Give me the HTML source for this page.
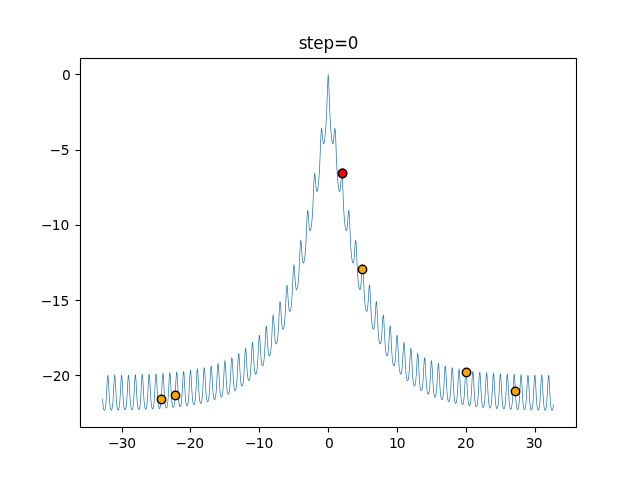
<!DOCTYPE html>
<html lang="en"><head><meta charset="utf-8"><title>step=0</title>
<style>html,body{margin:0;padding:0;background:#fff;overflow:hidden}svg{display:block}</style>
</head><body>
<svg width="640" height="480" viewBox="0 0 640 480">
<rect width="640" height="480" fill="#ffffff"/>
<path d="M102.643 404.771L102.645 404.790L103.096 408.159L103.105 408.202L103.556 409.924L103.622 410.055L104.073 410.621L104.320 410.754L104.587 410.665L105.038 410.265L105.142 410.102L105.594 408.602L105.605 408.552L106.056 405.512L106.059 405.491L106.510 400.288L106.511 400.278L106.962 392.649L106.962 392.646L107.413 383.742L107.814 377.524L108.059 380.193L108.510 388.732L108.961 397.172L108.962 397.178L109.413 403.453L109.415 403.468L109.866 407.367L109.872 407.401L110.323 409.490L110.358 409.584L110.809 410.418L110.991 410.579L111.235 410.585L111.686 410.433L111.904 410.223L112.356 409.037L112.374 408.972L112.825 406.386L112.829 406.360L113.280 401.771L113.281 401.758L113.732 394.723L113.733 394.718L114.184 385.913L114.634 378.049L114.718 377.465L114.830 378.310L115.280 386.284L115.732 395.036L115.732 395.041L116.183 401.952L116.184 401.965L116.636 406.435L116.640 406.462L117.091 408.957L117.111 409.026L117.563 410.144L117.820 410.359L118.271 410.452L118.498 410.424L118.660 410.264L119.112 409.366L119.142 409.279L119.593 407.106L119.599 407.073L120.050 403.062L120.051 403.047L120.503 396.645L120.503 396.638L120.954 388.117L121.405 379.639L121.635 377.256L122.051 383.855L122.502 392.741L122.502 392.744L122.954 400.258L122.954 400.268L123.406 405.345L123.409 405.368L123.860 408.309L123.872 408.362L124.324 409.788L124.448 409.965L124.900 410.305L125.167 410.372L125.402 410.228L125.853 409.600L125.909 409.479L126.361 407.679L126.368 407.638L126.820 404.163L126.821 404.145L127.273 398.386L127.273 398.378L127.725 390.286L127.725 390.284L128.176 381.466L128.498 377.163L128.821 381.509L129.273 390.311L129.273 390.313L129.724 398.363L129.725 398.371L130.176 404.082L130.178 404.100L130.629 407.532L130.637 407.573L131.089 409.336L131.150 409.463L131.601 410.057L131.843 410.195L132.110 410.116L132.562 409.743L132.674 409.574L133.126 408.112L133.138 408.060L133.589 405.077L133.592 405.055L134.043 399.930L134.044 399.920L134.495 392.360L134.495 392.357L134.946 383.446L135.361 376.892L135.592 379.313L136.043 387.784L136.494 396.266L136.495 396.273L136.946 402.627L136.947 402.642L137.399 406.607L137.404 406.640L137.856 408.774L137.888 408.865L138.340 409.727L138.514 409.888L138.751 409.904L139.202 409.777L139.436 409.564L139.888 408.410L139.907 408.343L140.358 405.807L140.362 405.780L140.813 401.263L140.814 401.250L141.265 394.290L141.266 394.285L141.717 385.500L142.167 377.526L142.276 376.717L142.363 377.334L142.813 385.201L143.265 393.972L143.265 393.976L143.716 400.962L143.717 400.974L144.169 405.515L144.172 405.542L144.624 408.084L144.643 408.152L145.094 409.300L145.336 409.514L145.788 409.629L146.021 409.610L146.191 409.449L146.643 408.578L146.675 408.489L147.126 406.357L147.131 406.324L147.583 402.377L147.584 402.362L148.036 396.036L148.036 396.029L148.487 387.547L148.938 378.996L149.181 376.361L149.584 382.616L150.035 391.491L150.035 391.494L150.487 399.073L150.487 399.083L150.939 404.233L150.941 404.255L151.393 407.248L151.405 407.300L151.856 408.757L151.973 408.929L152.425 409.290L152.692 409.365L152.931 409.225L153.383 408.619L153.442 408.495L153.893 406.729L153.901 406.688L154.352 403.269L154.354 403.251L154.806 397.565L154.806 397.557L155.258 389.518L155.258 389.516L155.709 380.657L156.044 376.045L156.354 380.087L156.806 388.845L156.806 388.847L157.257 396.947L157.258 396.955L157.709 402.738L157.711 402.756L158.162 406.242L158.170 406.283L158.621 408.079L158.679 408.202L159.131 408.817L159.369 408.958L159.637 408.885L160.088 408.530L160.207 408.357L160.658 406.923L160.670 406.870L161.122 403.934L161.125 403.912L161.576 398.854L161.577 398.844L162.028 391.346L162.028 391.342L162.479 382.420L162.908 375.504L163.125 377.675L163.576 386.062L164.027 394.575L164.028 394.581L164.479 401.004L164.480 401.018L164.932 405.041L164.937 405.074L165.388 407.242L165.420 407.331L165.871 408.212L166.041 408.373L166.274 408.394L166.725 408.281L166.968 408.068L167.420 406.934L167.439 406.866L167.891 404.367L167.895 404.340L168.346 399.882L168.347 399.869L168.798 392.973L168.799 392.968L169.250 384.194L169.701 376.104L169.834 375.034L169.896 375.437L170.346 383.177L170.798 391.952L170.798 391.956L171.249 399.003L171.250 399.015L171.702 403.614L171.705 403.641L172.157 406.219L172.175 406.286L172.627 407.451L172.863 407.665L173.314 407.790L173.550 407.774L173.723 407.613L174.175 406.756L174.208 406.665L174.659 404.562L174.664 404.528L175.116 400.631L175.117 400.616L175.569 394.351L175.569 394.345L176.020 385.891L176.020 385.890L176.471 377.257L176.729 374.343L177.117 380.233L177.568 389.080L177.568 389.083L178.020 396.710L178.020 396.720L178.472 401.927L178.474 401.949L178.926 404.978L178.937 405.030L179.389 406.503L179.504 406.675L179.956 407.041L180.223 407.118L180.463 406.979L180.915 406.378L180.975 406.254L181.426 404.505L181.434 404.464L181.885 401.083L181.887 401.065L182.339 395.436L182.339 395.427L182.791 387.426L182.791 387.424L183.242 378.512L183.591 373.553L183.887 377.275L184.339 385.965L184.339 385.967L184.790 394.098L184.790 394.105L185.242 399.941L185.244 399.959L185.695 403.482L185.703 403.523L186.154 405.332L186.212 405.457L186.664 406.071L186.903 406.213L187.170 406.139L187.622 405.782L187.740 405.610L188.191 404.182L188.203 404.130L188.655 401.219L188.658 401.197L189.109 396.186L189.110 396.176L189.561 388.719L189.561 388.716L190.012 379.764L190.456 372.436L190.658 374.345L191.109 382.621L191.560 391.139L191.561 391.145L192.012 397.613L192.013 397.627L192.465 401.685L192.470 401.718L192.921 403.897L192.953 403.988L193.405 404.863L193.578 405.026L193.814 405.043L194.266 404.919L194.502 404.707L194.953 403.569L194.972 403.501L195.424 401.015L195.428 400.988L195.879 396.563L195.880 396.551L196.331 389.694L196.332 389.689L196.783 380.903L197.234 372.676L197.396 371.283L197.429 371.481L197.879 379.062L198.331 387.810L198.331 387.814L198.782 394.893L198.783 394.905L199.235 399.535L199.238 399.561L199.690 402.147L199.709 402.215L200.160 403.369L200.410 403.585L200.861 403.691L201.091 403.668L201.258 403.508L201.709 402.633L201.741 402.545L202.192 400.438L202.197 400.405L202.649 396.526L202.650 396.511L203.102 390.278L203.102 390.271L203.553 381.816L203.553 381.815L204.004 373.072L204.278 369.827L204.650 375.306L205.101 384.085L205.101 384.088L205.553 391.729L205.553 391.739L206.005 396.969L206.007 396.991L206.459 400.023L206.471 400.076L206.922 401.530L207.049 401.709L207.501 402.045L207.767 402.111L208.001 401.967L208.453 401.335L208.508 401.217L208.959 399.449L208.967 399.408L209.418 396.028L209.420 396.009L209.872 390.398L209.872 390.390L210.324 382.390L210.324 382.388L210.775 373.388L211.141 368.009L211.420 371.366L211.872 379.943L211.872 379.944L212.323 388.062L212.323 388.069L212.775 393.917L212.777 393.935L213.228 397.452L213.236 397.494L213.687 399.275L213.753 399.408L214.204 399.980L214.452 400.114L214.720 400.024L215.171 399.620L215.274 399.460L215.725 397.993L215.736 397.943L216.188 395.012L216.190 394.990L216.642 389.979L216.643 389.969L217.094 382.509L217.094 382.505L217.545 373.480L217.996 365.839L218.017 365.716L218.191 367.246L218.642 375.356L219.093 383.825L219.094 383.831L219.545 390.293L219.546 390.308L219.998 394.349L220.003 394.383L220.455 396.522L220.491 396.620L220.942 397.438L221.136 397.602L221.390 397.594L221.841 397.406L222.037 397.203L222.488 396.005L222.505 395.942L222.957 393.412L222.961 393.385L223.412 388.938L223.413 388.925L223.864 382.052L223.865 382.047L224.316 373.194L224.767 364.778L224.963 362.951L225.412 370.293L225.864 378.948L225.864 378.952L226.315 386.001L226.316 386.013L226.768 390.611L226.771 390.639L227.223 393.169L227.245 393.244L227.696 394.322L228.008 394.539L228.459 394.560L228.796 394.356L229.248 393.398L229.274 393.318L229.725 391.140L229.730 391.109L230.182 387.180L230.183 387.165L230.635 380.894L230.635 380.887L231.086 372.363L231.086 372.362L231.537 363.443L231.831 359.754L232.183 364.715L232.634 373.348L232.634 373.351L233.086 380.928L233.086 380.937L233.538 386.115L233.540 386.138L233.992 389.095L234.006 389.153L234.457 390.510L234.635 390.716L235.087 390.941L235.344 390.965L235.549 390.808L236.000 390.065L236.042 389.964L236.493 388.093L236.500 388.055L236.952 384.592L236.953 384.574L237.405 378.897L237.405 378.889L237.857 370.807L237.857 370.804L238.308 361.635L238.696 355.666L238.954 358.563L239.405 366.931L239.405 366.931L239.856 374.942L239.856 374.949L240.308 380.715L240.310 380.734L240.761 384.152L240.771 384.199L241.222 385.856L241.319 386.020L241.770 386.451L242.037 386.549L242.290 386.420L242.741 385.871L242.809 385.742L243.260 384.136L243.270 384.092L243.721 381.039L243.724 381.018L244.175 375.905L244.176 375.894L244.627 368.327L244.627 368.324L245.079 359.125L245.529 351.171L245.595 350.735L245.724 351.757L246.175 359.583L246.626 367.889L246.627 367.895L247.078 374.237L247.080 374.253L247.531 378.163L247.537 378.201L247.989 380.184L248.044 380.309L248.496 380.951L248.739 381.099L249.012 381.021L249.464 380.648L249.575 380.485L250.026 379.105L250.039 379.053L250.490 376.355L250.494 376.331L250.945 371.736L250.946 371.724L251.397 364.708L251.398 364.703L251.849 355.659L252.300 346.927L252.524 344.621L252.945 351.170L253.397 359.592L253.397 359.596L253.848 366.475L253.849 366.488L254.301 370.914L254.305 370.946L254.757 373.280L254.791 373.377L255.242 374.236L255.443 374.408L255.707 374.393L256.158 374.182L256.340 373.986L256.791 372.795L256.808 372.735L257.260 370.335L257.264 370.308L257.715 366.176L257.716 366.162L258.168 359.700L258.168 359.694L258.619 350.947L258.619 350.946L259.071 341.698L259.394 337.300L259.716 341.520L260.167 349.837L260.167 349.840L260.619 357.183L260.619 357.193L261.071 362.147L261.074 362.173L261.526 364.884L261.548 364.962L261.999 366.047L262.151 366.218L262.375 366.262L262.827 366.200L263.104 365.990L263.555 364.955L263.577 364.886L264.029 362.729L264.034 362.699L264.485 358.967L264.486 358.951L264.938 353.020L264.938 353.012L265.390 344.660L265.390 344.658L265.841 335.130L266.263 328.174L266.487 330.420L266.938 338.371L266.938 338.371L267.389 346.066L267.390 346.075L267.841 351.551L267.843 351.573L268.295 354.682L268.310 354.746L268.762 356.067L269.038 356.302L269.490 356.378L269.710 356.344L269.867 356.186L270.318 355.272L270.346 355.194L270.798 353.227L270.803 353.195L271.255 349.794L271.257 349.776L271.708 344.331L271.709 344.322L272.160 336.419L272.160 336.415L272.612 326.812L273.062 318.313L273.199 317.215L273.258 317.597L273.708 324.887L274.159 332.776L274.160 332.783L274.611 338.751L274.613 338.770L275.064 342.294L275.075 342.347L275.527 343.914L275.722 344.140L276.173 344.343L276.432 344.356L276.631 344.190L277.082 343.367L277.115 343.281L277.567 341.449L277.573 341.415L278.025 338.274L278.027 338.255L278.478 333.234L278.479 333.223L278.930 325.784L278.931 325.779L279.382 316.263L279.833 306.933L280.103 303.723L280.479 309.012L280.930 316.894L280.930 316.898L281.381 323.298L281.383 323.314L281.834 327.257L281.842 327.302L282.294 329.124L282.433 329.328L282.884 329.648L283.164 329.706L283.396 329.539L283.847 328.772L283.885 328.681L284.336 326.929L284.343 326.894L284.795 323.939L284.797 323.919L285.248 319.245L285.249 319.234L285.701 312.239L285.701 312.233L286.152 302.920L286.152 302.919L286.604 292.995L286.977 287.225L287.249 290.289L287.700 297.913L287.700 297.916L288.152 304.648L288.153 304.661L288.604 309.012L288.610 309.051L289.062 311.131L289.166 311.314L289.617 311.738L289.908 311.831L290.164 311.663L290.615 310.919L290.655 310.825L291.106 309.097L291.113 309.063L291.565 306.215L291.567 306.195L292.019 301.782L292.020 301.770L292.471 295.169L292.471 295.162L292.923 286.119L292.923 286.117L293.374 275.809L293.824 267.454L293.884 267.083L294.020 268.151L294.471 275.226L294.471 275.227L294.922 282.148L294.923 282.159L295.374 286.883L295.379 286.916L295.831 289.249L295.913 289.417L296.364 289.928L296.664 290.046L296.936 289.874L297.387 289.114L297.426 289.020L297.877 287.256L297.884 287.224L298.335 284.401L298.338 284.383L298.789 280.133L298.790 280.121L299.241 273.837L299.242 273.830L299.693 265.077L299.693 265.074L300.145 254.550L300.596 244.984L300.832 242.454L301.241 248.093L301.693 255.008L301.693 255.016L302.145 260.048L302.148 260.078L302.600 262.645L302.670 262.803L303.122 263.379L303.314 263.504L303.542 263.485L303.712 263.331L304.163 262.511L304.197 262.423L304.649 260.556L304.654 260.527L305.106 257.642L305.108 257.625L305.559 253.432L305.560 253.421L306.012 247.355L306.012 247.348L306.464 238.860L306.464 238.856L306.915 228.237L307.366 217.671L307.720 212.374L308.012 215.612L308.463 222.273L308.463 222.279L308.915 227.514L308.918 227.541L309.370 230.307L309.435 230.462L309.886 231.070L310.084 231.202L310.321 231.180L310.491 231.013L310.942 230.082L310.969 230.004L311.421 227.960L311.425 227.935L311.877 224.891L311.878 224.876L312.330 220.624L312.331 220.613L312.782 214.646L312.783 214.638L313.234 206.349L313.234 206.344L313.685 195.696L313.686 195.695L314.137 184.319L314.587 175.768L314.631 175.522L314.783 176.686L315.234 182.788L315.234 182.792L315.685 188.078L315.688 188.102L316.140 191.006L316.208 191.166L316.659 191.760L316.864 191.892L317.106 191.860L317.270 191.679L317.722 190.575L317.741 190.509L318.193 188.204L318.196 188.184L318.647 184.873L318.649 184.861L319.100 180.419L319.101 180.409L319.552 174.400L319.553 174.393L320.004 166.195L320.005 166.190L320.456 155.520L320.456 155.518L320.907 143.482L321.358 133.231L321.607 130.565L322.004 135.151L322.004 135.152L322.456 140.282L322.458 140.304L322.910 143.248L322.994 143.428L323.445 143.943L323.659 144.060L323.897 144.011L324.049 143.821L324.500 142.467L324.513 142.414L324.965 139.748L324.967 139.732L325.419 136.031L325.420 136.022L325.871 131.245L325.872 131.238L326.323 125.026L326.323 125.019L326.775 116.769L326.775 116.765L327.226 106.021L327.226 106.019L327.678 93.420L328.129 81.620L328.226 80.075L328.322 81.620L328.774 93.420L329.225 106.019L329.225 106.021L329.676 116.765L329.677 116.769L330.128 125.019L330.128 125.026L330.580 131.238L330.580 131.245L331.032 136.022L331.033 136.031L331.484 139.732L331.487 139.748L331.938 142.414L331.951 142.467L332.402 143.821L332.554 144.011L332.793 144.060L333.006 143.943L333.458 143.428L333.542 143.248L333.993 140.304L333.996 140.282L334.447 135.152L334.447 135.151L334.844 130.565L335.093 133.231L335.544 143.482L335.995 155.518L335.995 155.520L336.447 166.190L336.447 166.195L336.898 174.393L336.899 174.400L337.350 180.409L337.351 180.419L337.802 184.861L337.804 184.873L338.255 188.184L338.259 188.204L338.710 190.509L338.730 190.575L339.181 191.679L339.345 191.860L339.587 191.892L339.792 191.760L340.244 191.166L340.312 191.006L340.763 188.102L340.766 188.078L341.217 182.792L341.218 182.788L341.668 176.686L341.821 175.522L341.865 175.768L342.315 184.319L342.766 195.695L342.766 195.696L343.217 206.344L343.217 206.349L343.669 214.638L343.669 214.646L344.121 220.613L344.122 220.624L344.573 224.876L344.575 224.891L345.026 227.935L345.031 227.960L345.482 230.004L345.509 230.082L345.961 231.013L346.130 231.180L346.367 231.202L346.565 231.070L347.016 230.462L347.082 230.307L347.533 227.541L347.537 227.514L347.988 222.279L347.988 222.273L348.439 215.612L348.731 212.374L349.085 217.671L349.536 228.237L349.988 238.856L349.988 238.860L350.439 247.348L350.440 247.355L350.891 253.421L350.892 253.432L351.343 257.625L351.346 257.642L351.797 260.527L351.803 260.556L352.254 262.423L352.288 262.511L352.740 263.331L352.909 263.485L353.138 263.504L353.330 263.379L353.781 262.803L353.852 262.645L354.303 260.078L354.307 260.048L354.758 255.016L354.759 255.008L355.210 248.093L355.619 242.454L355.856 244.984L356.307 254.550L356.758 265.074L356.758 265.077L357.210 273.830L357.210 273.837L357.661 280.121L357.662 280.133L358.114 284.383L358.116 284.401L358.568 287.224L358.574 287.256L359.026 289.020L359.064 289.114L359.516 289.874L359.788 290.046L360.087 289.928L360.538 289.417L360.621 289.249L361.072 286.916L361.077 286.883L361.528 282.159L361.529 282.148L361.981 275.227L361.981 275.226L362.431 268.151L362.568 267.083L362.627 267.454L363.077 275.809L363.528 286.117L363.529 286.119L363.980 295.162L363.980 295.169L364.432 301.770L364.433 301.782L364.884 306.195L364.887 306.215L365.338 309.063L365.345 309.097L365.796 310.825L365.836 310.919L366.288 311.663L366.543 311.831L366.834 311.738L367.286 311.314L367.390 311.131L367.841 309.051L367.847 309.012L368.299 304.661L368.300 304.648L368.751 297.916L368.751 297.913L369.202 290.289L369.474 287.225L369.848 292.995L370.299 302.919L370.299 302.920L370.750 312.233L370.751 312.239L371.202 319.234L371.203 319.245L371.654 323.919L371.657 323.939L372.108 326.894L372.115 326.929L372.567 328.681L372.604 328.772L373.056 329.539L373.287 329.706L373.567 329.648L374.018 329.328L374.158 329.124L374.609 327.302L374.617 327.257L375.069 323.314L375.070 323.298L375.521 316.898L375.522 316.894L375.973 309.012L376.349 303.723L376.618 306.933L377.069 316.263L377.521 325.779L377.521 325.784L377.972 333.223L377.973 333.234L378.424 338.255L378.427 338.274L378.878 341.415L378.885 341.449L379.336 343.281L379.369 343.367L379.821 344.190L380.019 344.356L380.278 344.343L380.729 344.140L380.925 343.914L381.376 342.347L381.387 342.294L381.838 338.770L381.840 338.751L382.292 332.783L382.292 332.776L382.743 324.887L383.194 317.597L383.253 317.215L383.389 318.313L383.840 326.812L384.291 336.415L384.291 336.419L384.743 344.322L384.743 344.331L385.195 349.776L385.197 349.794L385.648 353.195L385.654 353.227L386.105 355.194L386.133 355.272L386.584 356.186L386.741 356.344L386.962 356.378L387.413 356.302L387.690 356.067L388.141 354.746L388.157 354.682L388.608 351.573L388.610 351.551L389.062 346.075L389.062 346.066L389.514 338.371L389.514 338.371L389.965 330.420L390.189 328.174L390.610 335.130L391.062 344.658L391.062 344.660L391.513 353.012L391.514 353.020L391.965 358.951L391.966 358.967L392.418 362.699L392.423 362.729L392.874 364.886L392.896 364.955L393.348 365.990L393.625 366.200L394.076 366.262L394.301 366.218L394.452 366.047L394.903 364.962L394.926 364.884L395.377 362.173L395.381 362.147L395.832 357.193L395.833 357.183L396.284 349.840L396.284 349.837L396.735 341.520L397.058 337.300L397.381 341.698L397.832 350.946L397.832 350.947L398.283 359.694L398.284 359.700L398.735 366.162L398.736 366.176L399.188 370.308L399.192 370.335L399.643 372.735L399.660 372.795L400.111 373.986L400.293 374.182L400.744 374.393L401.008 374.408L401.209 374.236L401.660 373.377L401.695 373.280L402.146 370.946L402.151 370.914L402.602 366.488L402.603 366.475L403.054 359.596L403.055 359.592L403.506 351.170L403.927 344.621L404.151 346.927L404.602 355.659L405.054 364.703L405.054 364.708L405.505 371.724L405.506 371.736L405.958 376.331L405.961 376.355L406.412 379.053L406.425 379.105L406.876 380.485L406.988 380.648L407.439 381.021L407.712 381.099L407.956 380.951L408.407 380.309L408.463 380.184L408.914 378.201L408.920 378.163L409.372 374.253L409.373 374.237L409.825 367.895L409.825 367.889L410.276 359.583L410.727 351.757L410.856 350.735L410.923 351.171L411.373 359.125L411.824 368.324L411.824 368.327L412.276 375.894L412.276 375.905L412.728 381.018L412.730 381.039L413.182 384.092L413.191 384.136L413.642 385.742L413.710 385.871L414.161 386.420L414.414 386.549L414.681 386.451L415.132 386.020L415.229 385.856L415.681 384.199L415.690 384.152L416.142 380.734L416.144 380.715L416.595 374.949L416.595 374.942L417.047 366.931L417.047 366.931L417.498 358.563L417.755 355.666L418.143 361.635L418.595 370.804L418.595 370.807L419.046 378.889L419.047 378.897L419.498 384.574L419.500 384.592L419.951 388.055L419.958 388.093L420.409 389.964L420.451 390.065L420.902 390.808L421.108 390.965L421.365 390.941L421.816 390.716L421.994 390.510L422.446 389.153L422.460 389.095L422.911 386.138L422.914 386.115L423.365 380.937L423.366 380.928L423.817 373.351L423.817 373.348L424.268 364.715L424.620 359.754L424.914 363.443L425.365 372.362L425.365 372.363L425.816 380.887L425.817 380.894L426.268 387.165L426.270 387.180L426.721 391.109L426.726 391.140L427.177 393.318L427.204 393.398L427.655 394.356L427.992 394.560L428.444 394.539L428.755 394.322L429.207 393.244L429.229 393.169L429.680 390.639L429.684 390.611L430.135 386.013L430.136 386.001L430.587 378.952L430.588 378.948L431.039 370.293L431.488 362.951L431.685 364.778L432.135 373.194L432.587 382.047L432.587 382.052L433.038 388.925L433.039 388.938L433.491 393.385L433.495 393.412L433.946 395.942L433.963 396.005L434.415 397.203L434.610 397.406L435.061 397.594L435.315 397.602L435.509 397.438L435.960 396.620L435.997 396.522L436.448 394.383L436.454 394.349L436.905 390.308L436.906 390.293L437.358 383.831L437.358 383.825L437.809 375.356L438.260 367.246L438.434 365.716L438.456 365.839L438.906 373.480L439.357 382.505L439.357 382.509L439.809 389.969L439.810 389.979L440.261 394.990L440.264 395.012L440.715 397.943L440.726 397.993L441.178 399.460L441.280 399.620L441.732 400.024L441.999 400.114L442.247 399.980L442.699 399.408L442.764 399.275L443.215 397.494L443.223 397.452L443.675 393.935L443.677 393.917L444.128 388.069L444.128 388.062L444.580 379.944L444.580 379.943L445.031 371.366L445.310 368.009L445.676 373.388L446.128 382.388L446.128 382.390L446.579 390.390L446.580 390.398L447.031 396.009L447.033 396.028L447.484 399.408L447.492 399.449L447.944 401.217L447.999 401.335L448.450 401.967L448.684 402.111L448.951 402.045L449.402 401.709L449.529 401.530L449.981 400.076L449.993 400.023L450.444 396.991L450.447 396.969L450.898 391.739L450.899 391.729L451.350 384.088L451.350 384.085L451.801 375.306L452.174 369.827L452.447 373.072L452.898 381.815L452.898 381.816L453.349 390.271L453.350 390.278L453.801 396.511L453.803 396.526L454.254 400.405L454.259 400.438L454.711 402.545L454.742 402.633L455.194 403.508L455.361 403.668L455.590 403.691L456.041 403.585L456.291 403.369L456.743 402.215L456.762 402.147L457.213 399.561L457.217 399.535L457.668 394.905L457.669 394.893L458.120 387.814L458.121 387.810L458.572 379.062L459.022 371.481L459.055 371.283L459.218 372.676L459.668 380.903L460.120 389.689L460.120 389.694L460.571 396.551L460.572 396.563L461.024 400.988L461.028 401.015L461.479 403.501L461.498 403.569L461.950 404.707L462.186 404.919L462.637 405.043L462.874 405.026L463.047 404.863L463.498 403.988L463.530 403.897L463.981 401.718L463.987 401.685L464.438 397.627L464.439 397.613L464.891 391.145L464.891 391.139L465.342 382.621L465.793 374.345L465.995 372.436L466.439 379.764L466.890 388.716L466.890 388.719L467.342 396.176L467.342 396.186L467.794 401.197L467.797 401.219L468.248 404.130L468.260 404.182L468.712 405.610L468.830 405.782L469.281 406.139L469.549 406.213L469.788 406.071L470.239 405.457L470.297 405.332L470.749 403.523L470.756 403.482L471.208 399.959L471.210 399.941L471.661 394.105L471.661 394.098L472.113 385.967L472.113 385.965L472.564 377.275L472.860 373.553L473.209 378.512L473.661 387.424L473.661 387.426L474.112 395.427L474.113 395.436L474.564 401.065L474.566 401.083L475.017 404.464L475.025 404.505L475.477 406.254L475.537 406.378L475.988 406.979L476.229 407.118L476.496 407.041L476.947 406.675L477.063 406.503L477.514 405.030L477.526 404.978L477.977 401.949L477.980 401.927L478.431 396.720L478.432 396.710L478.883 389.083L478.883 389.080L479.334 380.233L479.723 374.343L479.980 377.257L480.431 385.890L480.431 385.891L480.882 394.345L480.883 394.351L481.334 400.616L481.336 400.631L481.787 404.528L481.792 404.562L482.244 406.665L482.277 406.756L482.728 407.613L482.902 407.774L483.137 407.790L483.589 407.665L483.825 407.451L484.276 406.286L484.295 406.219L484.746 403.641L484.750 403.614L485.201 399.015L485.202 399.003L485.653 391.956L485.654 391.952L486.105 383.177L486.555 375.437L486.617 375.034L486.751 376.104L487.201 384.194L487.653 392.968L487.653 392.973L488.104 399.869L488.105 399.882L488.557 404.340L488.561 404.367L489.012 406.866L489.032 406.934L489.483 408.068L489.726 408.281L490.177 408.394L490.411 408.373L490.580 408.212L491.031 407.331L491.063 407.242L491.514 405.074L491.520 405.041L491.971 401.018L491.972 401.004L492.424 394.581L492.424 394.575L492.875 386.062L493.326 377.675L493.544 375.504L493.972 382.420L494.423 391.342L494.423 391.346L494.875 398.844L494.875 398.854L495.327 403.912L495.330 403.934L495.781 406.870L495.793 406.923L496.244 408.357L496.363 408.530L496.815 408.885L497.082 408.958L497.321 408.817L497.772 408.202L497.830 408.079L498.281 406.283L498.289 406.242L498.741 402.756L498.742 402.738L499.194 396.955L499.194 396.947L499.646 388.847L499.646 388.845L500.097 380.087L500.407 376.045L500.742 380.657L501.194 389.516L501.194 389.518L501.645 397.557L501.646 397.565L502.097 403.251L502.099 403.269L502.550 406.688L502.558 406.729L503.010 408.495L503.069 408.619L503.520 409.225L503.760 409.365L504.027 409.290L504.478 408.929L504.595 408.757L505.047 407.300L505.059 407.248L505.510 404.255L505.513 404.233L505.964 399.083L505.965 399.073L506.416 391.494L506.416 391.491L506.867 382.616L507.270 376.361L507.513 378.996L507.964 387.547L508.415 396.029L508.416 396.036L508.867 402.362L508.869 402.377L509.320 406.324L509.325 406.357L509.777 408.489L509.809 408.578L510.260 409.449L510.430 409.610L510.664 409.629L511.115 409.514L511.357 409.300L511.808 408.152L511.828 408.084L512.279 405.542L512.283 405.515L512.734 400.974L512.735 400.962L513.186 393.976L513.187 393.972L513.638 385.201L514.088 377.334L514.176 376.717L514.284 377.526L514.734 385.500L515.186 394.285L515.186 394.290L515.637 401.250L515.638 401.263L516.090 405.780L516.093 405.807L516.545 408.343L516.564 408.410L517.015 409.564L517.249 409.777L517.701 409.904L517.937 409.888L518.112 409.727L518.563 408.865L518.596 408.774L519.047 406.640L519.053 406.607L519.504 402.642L519.505 402.627L519.957 396.273L519.957 396.266L520.408 387.784L520.859 379.313L521.091 376.892L521.505 383.446L521.956 392.357L521.956 392.360L522.408 399.920L522.408 399.930L522.860 405.055L522.862 405.077L523.314 408.060L523.326 408.112L523.777 409.574L523.890 409.743L524.341 410.116L524.608 410.195L524.850 410.057L525.302 409.463L525.363 409.336L525.814 407.573L525.822 407.532L526.274 404.100L526.275 404.082L526.727 398.371L526.727 398.363L527.179 390.313L527.179 390.311L527.630 381.509L527.954 377.163L528.275 381.466L528.727 390.284L528.727 390.286L529.178 398.378L529.179 398.386L529.630 404.145L529.632 404.163L530.083 407.638L530.091 407.679L530.542 409.479L530.598 409.600L531.050 410.228L531.284 410.372L531.552 410.305L532.003 409.965L532.128 409.788L532.579 408.362L532.591 408.309L533.043 405.368L533.046 405.345L533.497 400.268L533.498 400.258L533.949 392.744L533.949 392.741L534.400 383.855L534.817 377.256L535.046 379.639L535.497 388.117L535.948 396.638L535.949 396.645L536.400 403.047L536.401 403.062L536.853 407.073L536.858 407.106L537.309 409.279L537.340 409.366L537.791 410.264L537.954 410.424L538.180 410.452L538.631 410.359L538.889 410.144L539.340 409.026L539.360 408.957L539.812 406.462L539.816 406.435L540.267 401.965L540.268 401.952L540.719 395.041L540.720 395.036L541.171 386.284L541.621 378.310L541.733 377.465L541.817 378.049L542.267 385.913L542.719 394.718L542.719 394.723L543.170 401.758L543.171 401.771L543.623 406.360L543.626 406.386L544.078 408.972L544.096 409.037L544.547 410.223L544.765 410.433L545.217 410.585L545.460 410.579L545.642 410.418L546.094 409.584L546.128 409.490L546.580 407.401L546.585 407.367L547.037 403.468L547.038 403.453L547.490 397.178L547.490 397.172L547.941 388.732L548.392 380.193L548.637 377.524L549.038 383.742L549.489 392.646L549.489 392.649L549.941 400.278L549.941 400.288L550.393 405.491L550.395 405.512L550.847 408.552L550.858 408.602L551.309 410.102L551.413 410.265L551.865 410.665L552.131 410.754L552.378 410.621L552.829 410.055L552.895 409.924L553.347 408.202L553.355 408.159L553.806 404.790L553.854 404.438L553.150 404.344L552.654 408.043L552.227 409.671L552.056 409.886L551.960 409.801L551.545 408.422L551.099 405.419L550.649 400.231L550.198 392.608L549.747 383.703L549.747 383.698L549.295 376.696L549.280 376.615L548.829 375.141L548.686 374.949L548.453 374.892L548.237 374.995L548.136 375.212L547.685 380.135L547.684 380.149L547.232 388.695L546.781 397.131L546.331 403.394L545.882 407.268L545.445 409.291L545.160 409.817L545.151 409.813L544.771 408.816L544.328 406.277L543.879 401.707L543.428 394.680L542.976 385.876L542.976 385.874L542.525 377.993L542.522 377.963L542.071 374.814L541.951 374.595L541.717 374.509L541.484 374.598L541.367 374.818L540.916 378.230L540.913 378.256L540.462 386.245L540.462 386.247L540.011 394.997L539.560 401.900L539.111 406.349L538.668 408.794L538.302 409.700L537.995 409.089L537.557 406.978L537.108 402.990L536.657 396.598L536.206 388.080L535.755 379.594L535.753 379.579L535.302 374.889L535.198 374.670L534.976 374.569L534.742 374.634L534.605 374.834L534.154 376.590L534.143 376.656L533.692 383.813L533.692 383.817L533.240 392.703L532.789 400.210L532.339 405.271L531.894 408.174L531.485 409.466L531.414 409.519L531.214 409.241L530.785 407.526L530.337 404.081L529.887 398.335L529.436 390.247L528.984 381.425L528.984 381.417L528.532 375.380L528.414 375.141L528.162 375.052L527.711 375.073L527.480 375.173L527.373 375.401L526.922 381.461L526.921 381.469L526.470 390.274L526.019 398.319L525.568 404.017L525.121 407.418L524.693 409.091L524.509 409.333L524.424 409.263L524.012 407.928L523.566 404.982L523.116 399.873L522.665 392.319L522.214 383.408L522.214 383.404L521.762 376.259L521.751 376.191L521.300 374.476L521.162 374.276L520.928 374.212L520.707 374.313L520.603 374.532L520.152 379.253L520.151 379.268L519.699 387.746L519.248 396.226L518.798 402.569L518.349 406.510L517.911 408.579L517.616 409.142L517.612 409.141L517.238 408.184L516.795 405.696L516.345 401.198L515.895 394.246L515.443 385.462L515.443 385.460L514.992 377.472L514.989 377.445L514.538 374.068L514.421 373.848L514.188 373.760L513.954 373.846L513.835 374.065L513.383 377.249L513.380 377.279L512.929 385.161L512.929 385.163L512.478 393.933L512.027 400.910L511.577 405.431L511.135 407.925L510.763 408.871L510.761 408.872L510.461 408.294L510.023 406.227L509.575 402.304L509.124 395.988L508.673 387.510L508.222 378.952L508.221 378.938L507.769 374.041L507.668 373.823L507.451 373.720L507.218 373.778L507.076 373.972L506.624 375.482L506.610 375.561L506.159 382.573L506.159 382.577L505.707 391.454L505.256 399.026L504.806 404.160L504.361 407.115L503.949 408.443L503.870 408.506L503.680 408.251L503.251 406.574L502.804 403.185L502.354 397.513L501.903 389.479L501.451 380.617L501.451 380.610L500.999 374.394L500.807 374.103L500.356 373.872L500.129 373.839L499.930 373.951L499.840 374.161L499.389 380.037L499.388 380.046L498.937 388.808L498.486 396.904L498.035 402.674L497.588 406.130L497.159 407.838L496.966 408.100L496.889 408.040L496.479 406.735L496.033 403.837L495.583 398.796L495.132 391.305L494.681 382.382L494.681 382.378L494.229 375.085L494.221 375.028L493.770 373.064L493.636 372.858L493.401 372.789L493.177 372.887L493.070 373.108L492.619 377.612L492.618 377.628L492.166 386.024L491.715 394.534L491.265 400.947L490.816 404.945L490.378 407.050L490.077 407.637L490.075 407.636L489.704 406.704L489.262 404.255L488.812 399.817L488.362 392.929L487.910 384.157L487.910 384.155L487.459 376.053L487.457 376.028L487.005 372.413L486.890 372.193L486.658 372.102L486.424 372.186L486.302 372.403L485.851 375.346L485.847 375.379L485.396 383.137L485.396 383.139L484.945 391.913L484.494 398.952L484.044 403.532L483.601 406.062L483.227 407.028L483.223 407.029L482.928 406.468L482.490 404.429L482.042 400.557L481.591 394.304L481.140 385.853L480.689 377.213L480.688 377.200L480.236 372.085L480.077 371.820L479.770 371.780L479.549 371.996L479.098 373.246L479.077 373.344L478.626 380.189L478.626 380.195L478.174 389.042L477.723 396.664L477.273 401.855L476.827 404.847L476.416 406.192L476.334 406.258L476.147 406.008L475.718 404.349L475.271 400.999L474.821 395.383L474.370 387.387L473.918 378.472L473.918 378.465L473.467 372.057L473.376 371.844L472.925 371.344L472.683 371.227L472.428 371.313L472.307 371.553L471.856 377.224L471.855 377.233L471.404 385.928L470.953 394.054L470.502 399.878L470.055 403.371L469.625 405.093L469.433 405.354L469.356 405.293L468.945 403.994L468.500 401.122L468.050 396.128L467.599 388.678L467.148 379.726L467.148 379.723L466.696 372.266L466.690 372.217L466.239 369.983L466.109 369.774L465.874 369.699L465.647 369.795L465.538 370.016L465.086 374.279L465.085 374.297L464.633 382.582L464.633 382.583L464.182 391.098L463.732 397.556L463.283 401.590L462.845 403.705L462.548 404.282L462.545 404.281L462.171 403.340L461.729 400.902L461.279 396.498L460.829 389.650L460.377 380.866L460.377 380.865L459.926 372.626L459.924 372.605L459.473 368.729L459.360 368.508L459.129 368.415L458.895 368.496L458.770 368.710L458.319 371.381L458.314 371.419L457.863 379.021L457.863 379.024L457.412 387.771L456.961 394.842L456.511 399.452L456.068 401.990L455.698 402.937L455.698 402.937L455.395 402.350L454.957 400.306L454.509 396.452L454.058 390.230L453.607 381.779L453.156 373.030L453.155 373.018L452.704 367.657L452.555 367.397L452.259 367.343L452.029 367.535L451.577 368.491L451.544 368.619L451.093 375.261L451.093 375.267L450.641 384.048L450.190 391.683L449.740 396.897L449.295 399.891L448.886 401.209L448.817 401.260L448.615 400.977L448.185 399.293L447.738 395.943L447.288 390.346L446.837 382.351L446.385 373.349L446.385 373.343L445.934 366.707L445.889 366.558L445.438 365.749L445.203 365.575L444.917 365.636L444.774 365.892L444.323 371.312L444.322 371.323L443.871 379.905L443.420 388.018L442.969 393.853L442.522 397.340L442.094 399.028L441.924 399.243L441.827 399.157L441.413 397.809L440.967 394.915L440.517 389.921L440.066 382.467L439.615 373.443L439.615 373.440L439.163 365.776L439.159 365.735L438.707 363.185L438.581 362.972L438.347 362.892L438.117 362.986L438.005 363.207L437.554 367.176L437.552 367.196L437.100 375.317L437.100 375.317L436.649 383.785L436.199 390.236L435.750 394.253L435.313 396.324L435.041 396.816L435.025 396.809L434.639 395.785L434.196 393.300L433.746 388.873L433.296 382.008L432.844 373.158L432.844 373.157L432.393 364.730L432.392 364.711L431.940 360.518L431.830 360.297L431.602 360.201L431.367 360.277L431.239 360.488L430.787 362.826L430.782 362.871L430.330 370.251L430.330 370.254L429.879 378.909L429.428 385.950L428.978 390.528L428.536 393.006L428.192 393.829L427.864 393.133L427.424 391.012L426.976 387.106L426.525 380.847L426.074 372.326L425.623 363.402L425.622 363.392L425.171 357.716L425.042 357.471L424.777 357.392L424.535 357.528L424.084 358.117L424.011 358.308L423.560 364.668L423.560 364.674L423.108 373.310L422.657 380.881L422.207 386.042L421.762 388.958L421.367 390.146L421.340 390.160L421.087 389.743L420.653 387.945L420.205 384.509L419.755 378.845L419.304 370.768L418.852 361.597L418.852 361.591L418.401 354.645L418.379 354.544L417.928 353.337L417.705 353.124L417.399 353.165L417.241 353.430L416.790 358.506L416.789 358.519L416.338 366.892L415.887 374.898L415.436 380.650L414.989 384.035L414.570 385.575L414.467 385.674L414.306 385.478L413.881 383.966L413.434 380.945L412.984 375.847L412.533 368.287L412.082 359.089L412.082 359.086L411.630 351.114L411.627 351.081L411.176 348.108L411.054 347.891L410.820 347.807L410.588 347.897L410.472 348.117L410.021 351.679L410.019 351.704L409.568 359.543L409.567 359.544L409.116 367.848L408.666 374.179L408.217 378.062L407.786 379.958L407.595 380.229L407.519 380.166L407.108 378.910L406.663 376.250L406.214 371.672L405.763 364.665L405.312 355.623L405.311 355.623L404.860 346.883L404.859 346.867L404.408 342.228L404.302 342.008L404.079 341.908L403.845 341.976L403.709 342.179L403.258 344.047L403.249 344.108L402.797 351.126L402.797 351.130L402.346 359.552L401.895 366.422L401.446 370.826L401.007 373.093L400.738 373.606L400.724 373.600L400.335 372.573L399.892 370.218L399.443 366.106L398.992 359.654L398.541 350.911L398.090 341.659L398.089 341.650L397.638 335.505L397.508 335.256L397.239 335.179L396.787 335.236L396.575 335.344L396.479 335.561L396.027 341.470L396.027 341.478L395.575 349.797L395.124 357.134L394.675 362.070L394.232 364.727L393.909 365.503L393.562 364.704L393.121 362.599L392.672 358.889L392.222 352.970L391.771 344.623L391.319 335.094L391.319 335.090L390.868 327.643L390.858 327.578L390.406 325.778L390.270 325.577L390.036 325.511L389.814 325.611L389.709 325.830L389.257 330.358L389.256 330.373L388.805 338.330L388.354 346.021L387.904 351.482L387.459 354.547L387.094 355.615L386.788 354.995L386.350 353.085L385.902 349.709L385.451 344.277L385.000 336.380L384.549 326.778L384.549 326.776L384.098 318.263L384.095 318.238L383.644 314.605L383.529 314.385L383.297 314.294L383.063 314.378L382.941 314.595L382.489 317.504L382.486 317.537L382.035 324.844L382.035 324.845L381.583 332.733L381.133 338.689L380.686 342.176L380.288 343.560L380.286 343.561L380.014 343.066L379.578 341.296L379.131 338.182L378.681 333.175L378.230 325.743L377.779 316.229L377.327 306.892L377.326 306.880L376.875 301.506L376.721 301.242L376.419 301.196L376.193 301.401L375.741 302.503L375.716 302.613L375.264 308.964L375.264 308.969L374.813 316.851L374.362 323.241L373.914 327.153L373.500 328.825L373.472 328.845L373.242 328.455L372.807 326.769L372.360 323.841L371.910 319.183L371.459 312.196L371.008 302.886L370.557 292.959L370.556 292.952L370.105 285.985L370.063 285.839L369.612 285.005L369.378 284.828L369.090 284.888L368.946 285.143L368.495 290.231L368.494 290.241L368.042 297.870L367.592 304.595L367.143 308.920L366.719 310.872L366.668 310.921L366.470 310.595L366.036 308.934L365.589 306.113L365.140 301.716L364.689 295.123L364.238 286.085L363.786 275.776L363.786 275.772L363.335 267.398L363.331 267.361L362.880 264.530L362.757 264.314L362.524 264.231L362.292 264.321L362.177 264.541L361.726 268.072L361.723 268.095L361.272 275.181L360.821 282.097L360.372 286.798L359.942 289.019L359.877 289.092L359.701 288.795L359.266 287.095L358.819 284.298L358.369 280.064L357.918 273.790L357.467 265.042L357.016 254.519L357.016 254.518L356.565 244.942L356.563 244.926L356.112 240.101L356.008 239.882L355.788 239.781L355.554 239.845L355.415 240.044L354.964 241.756L354.953 241.821L354.502 248.043L354.502 248.045L354.051 254.957L353.601 259.969L353.168 262.435L353.103 262.518L352.933 262.210L352.496 260.403L352.048 257.540L351.599 253.362L351.148 247.306L350.697 238.824L350.246 228.207L349.794 217.637L349.794 217.628L349.342 210.874L349.196 210.609L348.744 210.284L348.509 210.219L348.287 210.320L348.183 210.541L347.732 215.553L347.731 215.561L347.280 222.221L346.830 227.440L346.395 230.108L346.344 230.176L346.166 229.810L345.727 227.819L345.278 224.794L344.828 220.554L344.378 214.596L343.927 206.312L343.475 195.666L343.024 184.288L343.024 184.284L342.572 175.708L342.567 175.665L342.116 173.137L341.991 172.925L341.758 172.845L341.529 172.936L341.414 173.154L340.963 176.604L340.961 176.624L340.510 182.733L340.060 188.005L339.624 190.808L339.603 190.835L339.400 190.339L338.957 188.078L338.508 184.783L338.058 180.351L337.607 174.351L337.156 166.158L336.705 155.491L336.254 143.455L336.253 143.452L335.802 133.191L335.801 133.174L335.350 128.336L335.247 128.119L335.030 128.016L334.797 128.075L334.655 128.270L334.204 129.812L334.191 129.881L333.740 135.090L333.289 140.208L332.866 142.967L332.633 142.268L332.188 139.637L331.738 135.950L331.288 131.182L330.837 124.977L330.386 116.732L329.934 105.993L329.483 93.394L329.483 93.394L329.032 81.588L329.031 81.580L328.580 74.378L328.469 74.141L328.226 74.045L327.983 74.141L327.871 74.378L327.420 81.580L327.420 81.588L326.968 93.394L326.968 93.394L326.517 105.993L326.066 116.732L325.615 124.977L325.164 131.182L324.713 135.950L324.263 139.637L323.818 142.268L323.585 142.967L323.162 140.208L322.712 135.090L322.260 129.881L322.247 129.812L321.796 128.270L321.654 128.075L321.421 128.016L321.204 128.119L321.102 128.336L320.650 133.174L320.649 133.191L320.198 143.452L320.198 143.455L319.746 155.491L319.295 166.158L318.844 174.351L318.393 180.351L317.943 184.783L317.494 188.078L317.051 190.339L316.848 190.835L316.827 190.808L316.392 188.005L315.941 182.733L315.490 176.624L315.488 176.604L315.037 173.154L314.922 172.936L314.693 172.845L314.460 172.925L314.335 173.137L313.884 175.665L313.879 175.708L313.428 184.284L313.427 184.288L312.976 195.666L312.525 206.312L312.074 214.596L311.623 220.554L311.173 224.794L310.725 227.819L310.285 229.810L310.107 230.176L310.056 230.108L309.621 227.440L309.171 222.221L308.720 215.561L308.719 215.553L308.268 210.541L308.164 210.320L307.942 210.219L307.707 210.284L307.256 210.609L307.109 210.874L306.658 217.628L306.657 217.637L306.206 228.207L305.754 238.824L305.303 247.306L304.853 253.362L304.403 257.540L303.955 260.403L303.518 262.210L303.349 262.518L303.284 262.435L302.850 259.969L302.401 254.957L301.950 248.045L301.949 248.043L301.498 241.821L301.487 241.756L301.036 240.044L300.898 239.845L300.664 239.781L300.443 239.882L300.339 240.101L299.888 244.926L299.887 244.942L299.435 254.518L299.435 254.519L298.984 265.042L298.533 273.790L298.082 280.064L297.633 284.298L297.185 287.095L296.751 288.795L296.574 289.092L296.509 289.019L296.079 286.798L295.630 282.097L295.179 275.181L294.728 268.095L294.726 268.072L294.274 264.541L294.159 264.321L293.928 264.231L293.694 264.314L293.572 264.530L293.120 267.361L293.116 267.398L292.665 275.772L292.665 275.776L292.214 286.085L291.762 295.123L291.312 301.716L290.862 306.113L290.415 308.934L289.981 310.595L289.784 310.921L289.732 310.872L289.308 308.920L288.860 304.595L288.409 297.870L287.958 290.241L287.957 290.231L287.505 285.143L287.361 284.888L287.074 284.828L286.840 285.005L286.388 285.839L286.346 285.985L285.895 292.952L285.895 292.959L285.443 302.886L284.992 312.196L284.541 319.183L284.091 323.841L283.644 326.769L283.210 328.455L282.980 328.845L282.951 328.825L282.537 327.153L282.089 323.241L281.638 316.851L281.187 308.969L281.187 308.964L280.736 302.613L280.710 302.503L280.259 301.401L280.032 301.196L279.730 301.242L279.576 301.506L279.125 306.880L279.124 306.892L278.673 316.229L278.222 325.743L277.771 333.175L277.321 338.182L276.873 341.296L276.437 343.066L276.166 343.561L276.164 343.560L275.765 342.176L275.318 338.689L274.868 332.733L274.417 324.845L274.417 324.844L273.965 317.537L273.962 317.504L273.511 314.595L273.389 314.378L273.154 314.294L272.923 314.385L272.807 314.605L272.356 318.238L272.354 318.263L271.902 326.776L271.902 326.778L271.451 336.380L271.000 344.277L270.550 349.709L270.102 353.085L269.663 354.995L269.357 355.615L268.993 354.547L268.548 351.482L268.098 346.021L267.646 338.330L267.195 330.373L267.194 330.358L266.743 325.830L266.637 325.611L266.415 325.511L266.181 325.577L266.045 325.778L265.594 327.578L265.584 327.643L265.132 335.090L265.132 335.094L264.681 344.623L264.230 352.970L263.779 358.889L263.331 362.599L262.890 364.704L262.542 365.503L262.219 364.727L261.777 362.070L261.327 357.134L260.876 349.797L260.425 341.478L260.424 341.470L259.973 335.561L259.876 335.344L259.664 335.236L259.213 335.179L258.943 335.256L258.813 335.505L258.362 341.650L258.362 341.659L257.910 350.911L257.459 359.654L257.008 366.106L256.559 370.218L256.116 372.573L255.727 373.600L255.713 373.606L255.444 373.093L255.005 370.826L254.556 366.422L254.106 359.552L253.654 351.130L253.654 351.126L253.203 344.108L253.194 344.047L252.742 342.179L252.607 341.976L252.372 341.908L252.150 342.008L252.044 342.228L251.592 346.867L251.591 346.883L251.140 355.623L251.140 355.623L250.689 364.665L250.238 371.672L249.788 376.250L249.343 378.910L248.932 380.166L248.856 380.229L248.666 379.958L248.234 378.062L247.786 374.179L247.335 367.848L246.884 359.544L246.884 359.543L246.432 351.704L246.430 351.679L245.979 348.117L245.863 347.897L245.631 347.807L245.397 347.891L245.276 348.108L244.824 351.081L244.821 351.114L244.370 359.086L244.369 359.089L243.918 368.287L243.467 375.847L243.017 380.945L242.571 383.966L242.146 385.478L241.985 385.674L241.881 385.575L241.462 384.035L241.015 380.650L240.565 374.898L240.113 366.892L239.662 358.519L239.661 358.506L239.210 353.430L239.052 353.165L238.747 353.124L238.524 353.337L238.072 354.544L238.051 354.645L237.599 361.591L237.599 361.597L237.148 370.768L236.697 378.845L236.246 384.509L235.799 387.945L235.365 389.743L235.112 390.160L235.084 390.146L234.689 388.958L234.244 386.042L233.794 380.881L233.343 373.310L232.892 364.674L232.891 364.668L232.440 358.308L232.368 358.117L231.916 357.528L231.675 357.392L231.409 357.471L231.281 357.716L230.829 363.392L230.829 363.402L230.377 372.326L229.926 380.847L229.476 387.106L229.027 391.012L228.587 393.133L228.260 393.829L227.915 393.006L227.473 390.528L227.023 385.950L226.573 378.909L226.121 370.254L226.121 370.251L225.670 362.871L225.664 362.826L225.213 360.488L225.084 360.277L224.849 360.201L224.621 360.297L224.511 360.518L224.060 364.711L224.058 364.730L223.607 373.157L223.607 373.158L223.156 382.008L222.705 388.873L222.256 393.300L221.812 395.785L221.426 396.809L221.410 396.816L221.138 396.324L220.701 394.253L220.253 390.236L219.802 383.785L219.351 375.317L219.351 375.317L218.900 367.196L218.898 367.176L218.446 363.207L218.334 362.986L218.105 362.892L217.870 362.972L217.744 363.185L217.293 365.735L217.288 365.776L216.837 373.440L216.836 373.443L216.385 382.467L215.934 389.921L215.484 394.915L215.039 397.809L214.624 399.157L214.527 399.243L214.357 399.028L213.930 397.340L213.482 393.853L213.032 388.018L212.581 379.905L212.129 371.323L212.128 371.312L211.677 365.892L211.535 365.636L211.249 365.575L211.013 365.749L210.562 366.558L210.518 366.707L210.066 373.343L210.066 373.349L209.615 382.351L209.164 390.346L208.713 395.943L208.266 399.293L207.836 400.977L207.634 401.260L207.566 401.209L207.157 399.891L206.711 396.897L206.261 391.683L205.810 384.048L205.359 375.267L205.358 375.261L204.907 368.619L204.874 368.491L204.423 367.535L204.192 367.343L203.897 367.397L203.748 367.657L203.296 373.018L203.296 373.030L202.844 381.779L202.393 390.230L201.943 396.452L201.494 400.306L201.056 402.350L200.753 402.937L200.753 402.937L200.383 401.990L199.940 399.452L199.490 394.842L199.040 387.771L198.588 379.024L198.588 379.021L198.137 371.419L198.133 371.381L197.681 368.710L197.557 368.496L197.322 368.415L197.092 368.508L196.979 368.729L196.527 372.605L196.525 372.626L196.074 380.865L196.074 380.866L195.623 389.650L195.172 396.498L194.723 400.902L194.280 403.340L193.907 404.281L193.904 404.282L193.607 403.705L193.169 401.590L192.720 397.556L192.269 391.098L191.818 382.583L191.818 382.582L191.367 374.297L191.365 374.279L190.914 370.016L190.804 369.795L190.577 369.699L190.342 369.774L190.213 369.983L189.761 372.217L189.755 372.266L189.304 379.723L189.303 379.726L188.852 388.678L188.401 396.128L187.951 401.122L187.506 403.994L187.095 405.293L187.018 405.354L186.826 405.093L186.397 403.371L185.949 399.878L185.499 394.054L185.048 385.928L184.596 377.233L184.596 377.224L184.144 371.553L184.023 371.313L183.769 371.227L183.527 371.344L183.075 371.844L182.985 372.057L182.533 378.465L182.533 378.472L182.082 387.387L181.631 395.383L181.180 400.999L180.733 404.349L180.305 406.008L180.117 406.258L180.036 406.192L179.624 404.847L179.178 401.855L178.728 396.664L178.277 389.042L177.826 380.195L177.826 380.189L177.374 373.344L177.354 373.246L176.902 371.996L176.681 371.780L176.374 371.820L176.215 372.085L175.764 377.200L175.763 377.213L175.311 385.853L174.860 394.304L174.410 400.557L173.961 404.429L173.524 406.468L173.228 407.029L173.224 407.028L172.850 406.062L172.407 403.532L171.957 398.952L171.507 391.913L171.055 383.139L171.055 383.137L170.604 375.379L170.600 375.346L170.149 372.403L170.027 372.186L169.793 372.102L169.561 372.193L169.446 372.413L168.995 376.028L168.992 376.053L168.541 384.155L168.541 384.157L168.090 392.929L167.639 399.817L167.190 404.255L166.747 406.704L166.376 407.636L166.374 407.637L166.074 407.050L165.635 404.945L165.187 400.947L164.736 394.534L164.285 386.024L163.834 377.628L163.832 377.612L163.381 373.108L163.274 372.887L163.050 372.789L162.815 372.858L162.682 373.064L162.230 375.028L162.222 375.085L161.771 382.378L161.770 382.382L161.319 391.305L160.868 398.796L160.418 403.837L159.973 406.735L159.562 408.040L159.486 408.100L159.293 407.838L158.864 406.130L158.416 402.674L157.966 396.904L157.515 388.808L157.063 380.046L157.063 380.037L156.611 374.161L156.521 373.951L156.322 373.839L156.096 373.872L155.644 374.103L155.452 374.394L155.001 380.610L155.000 380.617L154.549 389.479L154.098 397.513L153.647 403.185L153.200 406.574L152.771 408.251L152.581 408.506L152.502 408.443L152.091 407.115L151.645 404.160L151.195 399.026L150.744 391.454L150.293 382.577L150.293 382.573L149.841 375.561L149.827 375.482L149.376 373.972L149.233 373.778L149.000 373.720L148.784 373.823L148.682 374.041L148.231 378.938L148.230 378.952L147.778 387.510L147.327 395.988L146.877 402.304L146.428 406.227L145.990 408.294L145.691 408.872L145.689 408.871L145.317 407.925L144.874 405.431L144.424 400.910L143.974 393.933L143.522 385.163L143.522 385.161L143.071 377.279L143.068 377.249L142.617 374.065L142.497 373.846L142.264 373.760L142.031 373.848L141.913 374.068L141.462 377.445L141.459 377.472L141.008 385.460L141.008 385.462L140.557 394.246L140.106 401.198L139.656 405.696L139.214 408.184L138.839 409.141L138.835 409.142L138.540 408.579L138.102 406.510L137.654 402.569L137.203 396.226L136.752 387.746L136.301 379.268L136.300 379.253L135.848 374.532L135.744 374.313L135.523 374.212L135.290 374.276L135.151 374.476L134.700 376.191L134.689 376.259L134.238 383.404L134.238 383.408L133.786 392.319L133.335 399.873L132.885 404.982L132.440 407.928L132.027 409.263L131.943 409.333L131.759 409.091L131.330 407.418L130.883 404.017L130.433 398.319L129.982 390.274L129.530 381.469L129.530 381.461L129.078 375.401L128.972 375.173L128.741 375.073L128.289 375.052L128.038 375.141L127.919 375.380L127.468 381.417L127.467 381.425L127.016 390.247L126.565 398.335L126.114 404.081L125.667 407.526L125.237 409.241L125.037 409.519L124.966 409.466L124.557 408.174L124.112 405.271L123.662 400.210L123.211 392.703L122.760 383.817L122.760 383.813L122.308 376.656L122.298 376.590L121.846 374.834L121.709 374.634L121.475 374.569L121.254 374.670L121.149 374.889L120.698 379.579L120.697 379.594L120.245 388.079L119.794 396.598L119.344 402.990L118.895 406.978L118.456 409.089L118.149 409.700L117.783 408.794L117.341 406.349L116.891 401.900L116.441 394.997L115.989 386.247L115.989 386.245L115.538 378.256L115.535 378.230L115.084 374.818L114.967 374.598L114.734 374.509L114.500 374.595L114.381 374.814L113.929 377.963L113.926 377.993L113.475 385.874L113.475 385.876L113.024 394.680L112.573 401.707L112.123 406.277L111.680 408.816L111.301 409.813L111.291 409.817L111.006 409.291L110.569 407.268L110.121 403.394L109.670 397.131L109.219 388.695L108.768 380.149L108.767 380.135L108.315 375.212L108.214 374.995L107.998 374.892L107.766 374.949L107.622 375.141L107.171 376.615L107.156 376.696L106.705 383.698L106.705 383.703L106.253 392.608L105.802 400.231L105.352 405.419L104.906 408.422L104.491 409.801L104.395 409.886L104.224 409.671L103.797 408.043L103.350 404.705L102.899 399.084L102.871 398.730L102.163 398.787Z" fill="#1f77b4" fill-opacity="1.0" fill-rule="evenodd" stroke="none"/>
<g stroke="#000000" stroke-width="1.5">
<circle cx="161.5" cy="399.5" r="4.1667" fill="#ffa500"/>
<circle cx="175.5" cy="395.5" r="4.1667" fill="#ffa500"/>
<circle cx="362.5" cy="269.5" r="4.1667" fill="#ffa500"/>
<circle cx="466.5" cy="372.5" r="4.1667" fill="#ffa500"/>
<circle cx="515.5" cy="391.5" r="4.1667" fill="#ffa500"/>
<circle cx="342.5" cy="173.5" r="4.1667" fill="#ffa500"/>
<circle cx="342.5" cy="173.5" r="4.1667" fill="#ff0000"/>
</g>
<g stroke="#000000" stroke-width="1.111" fill="none">
<line x1="122.5" y1="427.5" x2="122.5" y2="432.50"/>
<line x1="190.5" y1="427.5" x2="190.5" y2="432.50"/>
<line x1="259.5" y1="427.5" x2="259.5" y2="432.50"/>
<line x1="328.5" y1="427.5" x2="328.5" y2="432.50"/>
<line x1="397.5" y1="427.5" x2="397.5" y2="432.50"/>
<line x1="466.5" y1="427.5" x2="466.5" y2="432.50"/>
<line x1="535.5" y1="427.5" x2="535.5" y2="432.50"/>
<line x1="80.5" y1="74.5" x2="75.50" y2="74.5"/>
<line x1="80.5" y1="150.5" x2="75.50" y2="150.5"/>
<line x1="80.5" y1="225.5" x2="75.50" y2="225.5"/>
<line x1="80.5" y1="300.5" x2="75.50" y2="300.5"/>
<line x1="80.5" y1="375.5" x2="75.50" y2="375.5"/>
<rect x="80.5" y="58.5" width="496" height="369"/>
</g>
<g font-family="'DejaVu Sans', 'Liberation Sans', sans-serif" fill="#000000">
<g font-size="13.889">
<text x="107.89 118.71 127.14" y="448">−30</text>
<text x="175.41 186.73 195.16" y="448">−20</text>
<text x="244.91 255.63 264.46" y="448">−10</text>
<text x="324.92" y="448">0</text>
<text x="388.90 396.81" y="448">10</text>
<text x="456.91 465.72" y="448">20</text>
<text x="525.66 533.67" y="448">30</text>
<text x="61.88" y="80">0</text>
<text x="49.41 60.84" y="155">−5</text>
<text x="40.92 51.64 60.47" y="230">−10</text>
<text x="40.64 51.76 60.39" y="306">−15</text>
<text x="41.65 52.72 61.15" y="381">−20</text>
</g>
<text transform="translate(0 49) scale(1.01 1.07)" x="295.71 303.80 310.03 320.18 330.68 344.22" y="0" font-size="16.667">step=0</text>
</g>
</svg>
</body></html>
